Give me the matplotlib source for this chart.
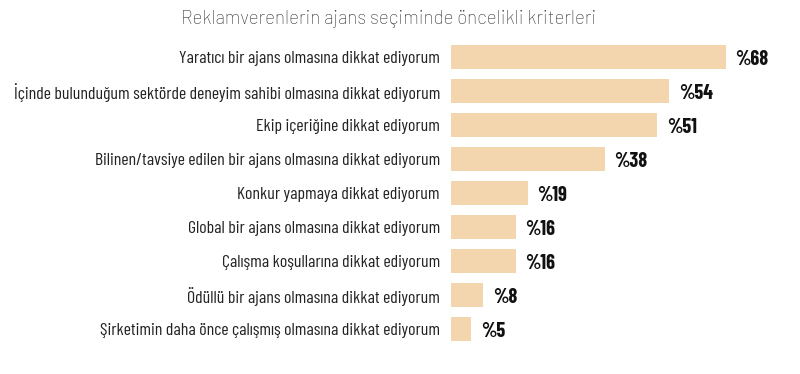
import matplotlib.pyplot as plt

labels = [
    "Yaratıcı bir ajans olmasına dikkat ediyorum",
    "İçinde bulunduğum sektörde deneyim sahibi olmasına dikkat ediyorum",
    "Ekip içeriğine dikkat ediyorum",
    "Bilinen/tavsiye edilen bir ajans olmasına dikkat ediyorum",
    "Konkur yapmaya dikkat ediyorum",
    "Global bir ajans olmasına dikkat ediyorum",
    "Çalışma koşullarına dikkat ediyorum",
    "Ödüllü bir ajans olmasına dikkat ediyorum",
    "Şirketimin daha önce çalışmış olmasına dikkat ediyorum",
]
values = [68, 54, 51, 38, 19, 16, 16, 8, 5]
title = "Reklamverenlerin ajans seçiminde öncelikli kriterleri"

BAR_COLOR = "#F3D5AE"
COND = ["Barlow Condensed", "DejaVu Sans"]

W, H = 800, 374
fig = plt.figure(figsize=(W / 100, H / 100), dpi=100)
left = 451 / W
ax = fig.add_axes([left, 1 - 346 / H, 1 - left, 306 / H])

y = list(range(len(values)))
ax.barh(y, values, height=0.73, color=BAR_COLOR, edgecolor="none")
ax.set_ylim(len(values) - 0.5, -0.5)
ax.set_xlim(0, (W - 451) / 4.04)

ax.set_yticks(y)
ax.set_yticklabels(labels, family=COND, fontweight="normal", fontsize=12.8, color="#222222")
ax.tick_params(axis="y", length=0, pad=8)
ax.set_xticks([])
for s in ax.spines.values():
    s.set_visible(False)

# value labels just right of each bar
for yi, v in zip(y, values):
    ax.annotate(f"%{v}", (v, yi), xytext=(7, -1.5), textcoords="offset points",
                va="center", ha="left", family=COND, fontweight="bold",
                fontsize=14.5, color="#111111")

fig.text(389 / W, 1 - 19 / H, title, ha="center", va="center",
         family=["Barlow", "DejaVu Sans"], fontweight="light", fontsize=13.5, color="#333333")

fig.savefig("out.png", dpi=100)
